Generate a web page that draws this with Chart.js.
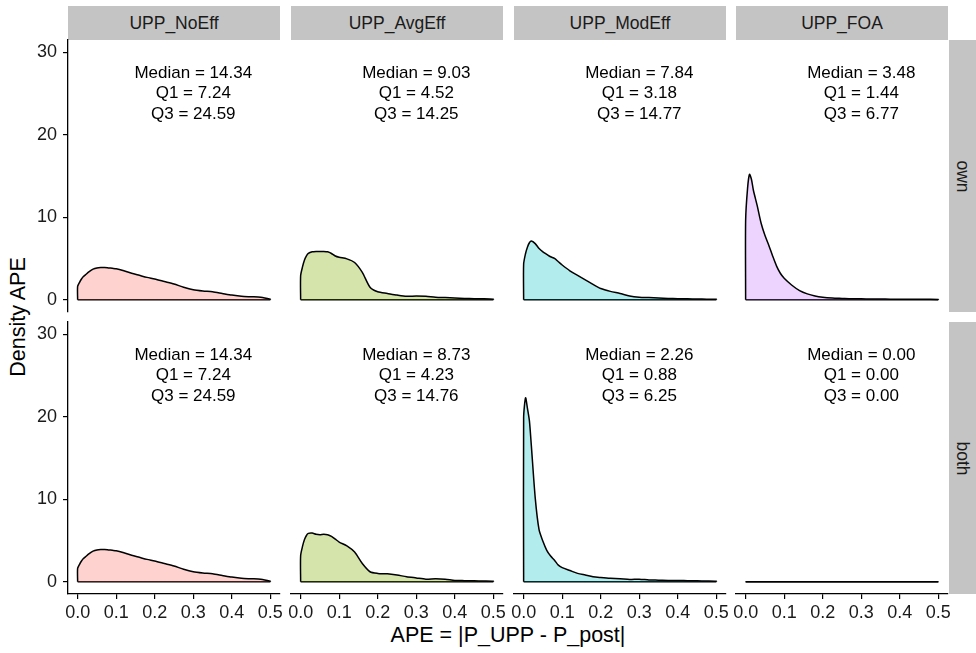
<!DOCTYPE html>
<html>
<head>
<meta charset="utf-8">
<script src="https://cdn.jsdelivr.net/npm/chart.js@4.4.1/dist/chart.umd.min.js"></script>
<style>
  body { margin: 0; background: #fff; font-family: "Liberation Sans", Arial, sans-serif; }
  #page { position: relative; width: 976px; height: 653px; overflow: hidden; }
  canvas { position: absolute; }
  .strip { position: absolute; background: #c4c4c4; color: #1a1a1a; font-size: 17.5px;
           display: flex; align-items: center; justify-content: center; }
  .strip.side span { transform: rotate(90deg); white-space: nowrap; }
  .title { position: absolute; font-size: 21.5px; color: #000; white-space: nowrap;
           transform: translate(-50%, -50%); }
  .title.ylab { transform: translate(-50%, -50%) rotate(-90deg); }
</style>
</head>
<body>
<div id="page"></div>
<script>
// facets
const methods = ["UPP_NoEff", "UPP_AvgEff", "UPP_ModEff", "UPP_FOA"];
const targets = ["own", "both"];

// axes
const xTicks = [0, 0.1, 0.2, 0.3, 0.4, 0.5];
const yTicks = [0, 10, 20, 30];

const apeGrid = [0, 0.005, 0.01, 0.015, 0.02, 0.03, 0.04, 0.05, 0.06, 0.07, 0.08, 0.09, 0.1, 0.12, 0.14,
                 0.16, 0.18, 0.2, 0.225, 0.25, 0.275, 0.3, 0.325, 0.35, 0.375, 0.4, 0.425, 0.45, 0.475, 0.5];

// density, row "own"
const ownNoEff  = [1.6, 2.1, 2.5, 2.8, 3.0, 3.4, 3.7, 3.85, 3.9, 3.9, 3.85, 3.8, 3.75, 3.5, 3.2,
                   2.95, 2.7, 2.5, 2.2, 1.9, 1.5, 1.2, 1.05, 0.95, 0.75, 0.55, 0.4, 0.35, 0.3, 0.05];
const ownAvgEff = [2.9, 4.0, 4.8, 5.3, 5.6, 5.8, 5.85, 5.85, 5.85, 5.8, 5.6, 5.3, 5.15, 4.95, 4.5,
                   3.3, 1.5, 0.95, 0.75, 0.55, 0.4, 0.45, 0.4, 0.3, 0.25, 0.2, 0.15, 0.12, 0.1, 0.05];
const ownModEff = [4.3, 5.6, 6.4, 6.9, 7.1, 6.8, 6.2, 5.8, 5.5, 5.2, 5.0, 4.6, 4.2, 3.5, 2.95,
                   2.4, 1.85, 1.35, 1.0, 0.75, 0.45, 0.3, 0.25, 0.2, 0.15, 0.12, 0.1, 0.08, 0.06, 0.05];
const ownFOA    = [9.6, 13.5, 15.2, 14.6, 13.3, 11.4, 9.3, 7.8, 6.6, 5.3, 4.1, 3.2, 2.6, 1.75, 1.1,
                   0.7, 0.45, 0.3, 0.2, 0.15, 0.1, 0.1, 0.08, 0.07, 0.06, 0.05, 0.05, 0.04, 0.04, 0.03];

// density, row "both"
const bothNoEff  = [1.6, 2.1, 2.5, 2.8, 3.0, 3.4, 3.7, 3.85, 3.9, 3.9, 3.85, 3.8, 3.75, 3.5, 3.2,
                    2.95, 2.7, 2.5, 2.2, 1.9, 1.5, 1.2, 1.05, 0.95, 0.75, 0.55, 0.4, 0.35, 0.3, 0.05];
const bothAvgEff = [3.15, 4.3, 5.1, 5.6, 5.85, 5.9, 5.75, 5.7, 5.75, 5.7, 5.5, 5.15, 4.8, 4.35, 3.6,
                    2.2, 1.2, 1.0, 0.95, 0.8, 0.6, 0.45, 0.3, 0.35, 0.3, 0.15, 0.12, 0.1, 0.08, 0.05];
const bothModEff = [19.9, 22.3, 21.0, 19.5, 16.5, 10.2, 6.3, 4.9, 3.8, 3.1, 2.6, 2.0, 1.7, 1.35, 1.0,
                    0.8, 0.6, 0.5, 0.4, 0.35, 0.25, 0.3, 0.2, 0.18, 0.15, 0.15, 0.12, 0.1, 0.08, 0.05];
const bothFOA    = [0, 0, 0, 0, 0, 0, 0, 0, 0, 0, 0, 0, 0, 0, 0,
                    0, 0, 0, 0, 0, 0, 0, 0, 0, 0, 0, 0, 0, 0, 0];

// summary labels
const ownMedian  = ["14.34", "9.03", "7.84", "3.48"];
const ownQ1      = ["7.24", "4.52", "3.18", "1.44"];
const ownQ3      = ["24.59", "14.25", "14.77", "6.77"];
const bothMedian = ["14.34", "8.73", "2.26", "0.00"];
const bothQ1     = ["7.24", "4.23", "0.88", "0.00"];
const bothQ3     = ["24.59", "14.76", "6.25", "0.00"];

const fills = ["rgba(248,118,109,0.33)", "rgba(124,174,0,0.33)", "rgba(0,191,196,0.3)", "rgba(199,124,255,0.33)"];

const density = [[ownNoEff, ownAvgEff, ownModEff, ownFOA], [bothNoEff, bothAvgEff, bothModEff, bothFOA]];
const stats = [[ownMedian, ownQ1, ownQ3], [bothMedian, bothQ1, bothQ3]];

// layout (px)
const panelLeft = [68, 291, 514, 736];
const panelTop = [40, 322];
const panelW = 212, panelH = 272;
const axW = 40, axH = 30, padR = 10, padT = 20;

Chart.defaults.font.family = '"Liberation Sans", Arial, sans-serif';
Chart.defaults.font.size = 18;
Chart.defaults.color = '#1a1a1a';

const statsLabel = {
  id: 'statsLabel',
  afterDatasetsDraw(chart, args, opts) {
    const { ctx, scales: { x, y } } = chart;
    const px = x.getPixelForValue(0.3), py = y.getPixelForValue(25);
    ctx.save();
    ctx.font = '17px "Liberation Sans", Arial, sans-serif';
    ctx.fillStyle = '#000';
    ctx.textAlign = 'center';
    ctx.textBaseline = 'middle';
    opts.lines.forEach((t, i) => ctx.fillText(t, px, py + (i - 1) * 20.5));
    ctx.restore();
  }
};

const page = document.getElementById('page');

function addDiv(cls, text, css) {
  const d = document.createElement('div');
  d.className = cls;
  Object.assign(d.style, css);
  if (cls.includes('side')) {
    const s = document.createElement('span');
    s.textContent = text;
    d.appendChild(s);
  } else {
    d.textContent = text;
  }
  page.appendChild(d);
}

methods.forEach((m, c) => {
  addDiv('strip', m, { left: panelLeft[c] + 'px', top: '6px', width: panelW + 'px', height: '34px' });
});
targets.forEach((t, r) => {
  addDiv('strip side', t, { left: '949px', top: panelTop[r] + 'px', width: '27px', height: panelH + 'px' });
});
addDiv('title ylab', 'Density APE', { left: '18px', top: '317px' });
addDiv('title', 'APE = |P_UPP - P_post|', { left: '508px', top: '635px' });

targets.forEach((t, r) => {
  methods.forEach((m, c) => {
    const cv = document.createElement('canvas');
    cv.width = axW + panelW + padR;
    cv.height = padT + panelH + axH;
    cv.style.left = (panelLeft[c] - axW) + 'px';
    cv.style.top = (panelTop[r] - padT) + 'px';
    page.appendChild(cv);

    const ys = density[r][c];
    const pts = [{ x: 0, y: 0 }].concat(apeGrid.map((x, i) => ({ x: x, y: ys[i] })), [{ x: 0.5, y: 0 }]);
    const showX = r === 1, showY = c === 0;
    const s = stats[r];

    new Chart(cv, {
      type: 'line',
      data: {
        datasets: [
          {
            data: pts,
            borderColor: '#000',
            borderWidth: 1.5,
            backgroundColor: fills[c],
            fill: 'origin',
            pointRadius: 0,
            tension: 0.25,
          },
          {
            data: [{ x: 0, y: 0 }, { x: 0.5, y: 0 }],
            borderColor: '#000',
            borderWidth: 1.5,
            fill: false,
            pointRadius: 0,
          },
        ],
      },
      options: {
        responsive: false,
        animation: false,
        layout: { padding: { right: padR, top: padT } },
        plugins: {
          legend: { display: false },
          tooltip: { enabled: false },
          statsLabel: { lines: ['Median = ' + s[0][c], 'Q1 = ' + s[1][c], 'Q3 = ' + s[2][c]] },
        },
        scales: {
          x: {
            type: 'linear',
            min: -0.025,
            max: 0.525,
            afterBuildTicks: (sc) => { sc.ticks = xTicks.map(v => ({ value: v })); },
            afterFit: (sc) => { sc.height = axH; },
            ticks: {
              display: showX,
              padding: 3,
              maxRotation: 0,
              autoSkip: false,
              callback: (v) => v.toFixed(1),
            },
            grid: { display: showX, drawOnChartArea: false, tickLength: 5, color: '#000', lineWidth: 1.2 },
            border: { display: showX, color: '#000', width: 1.3 },
          },
          y: {
            type: 'linear',
            min: -1.5,
            max: 31.5,
            afterBuildTicks: (sc) => { sc.ticks = yTicks.map(v => ({ value: v })); },
            afterFit: (sc) => { sc.width = axW; },
            ticks: { display: showY, padding: 6, callback: (v) => v },
            grid: { display: showY, drawOnChartArea: false, tickLength: 5, color: '#000', lineWidth: 1.2 },
            border: { display: showY, color: '#000', width: 1.3 },
          },
        },
      },
      plugins: [statsLabel],
    });
  });
});
</script>
</body>
</html>
